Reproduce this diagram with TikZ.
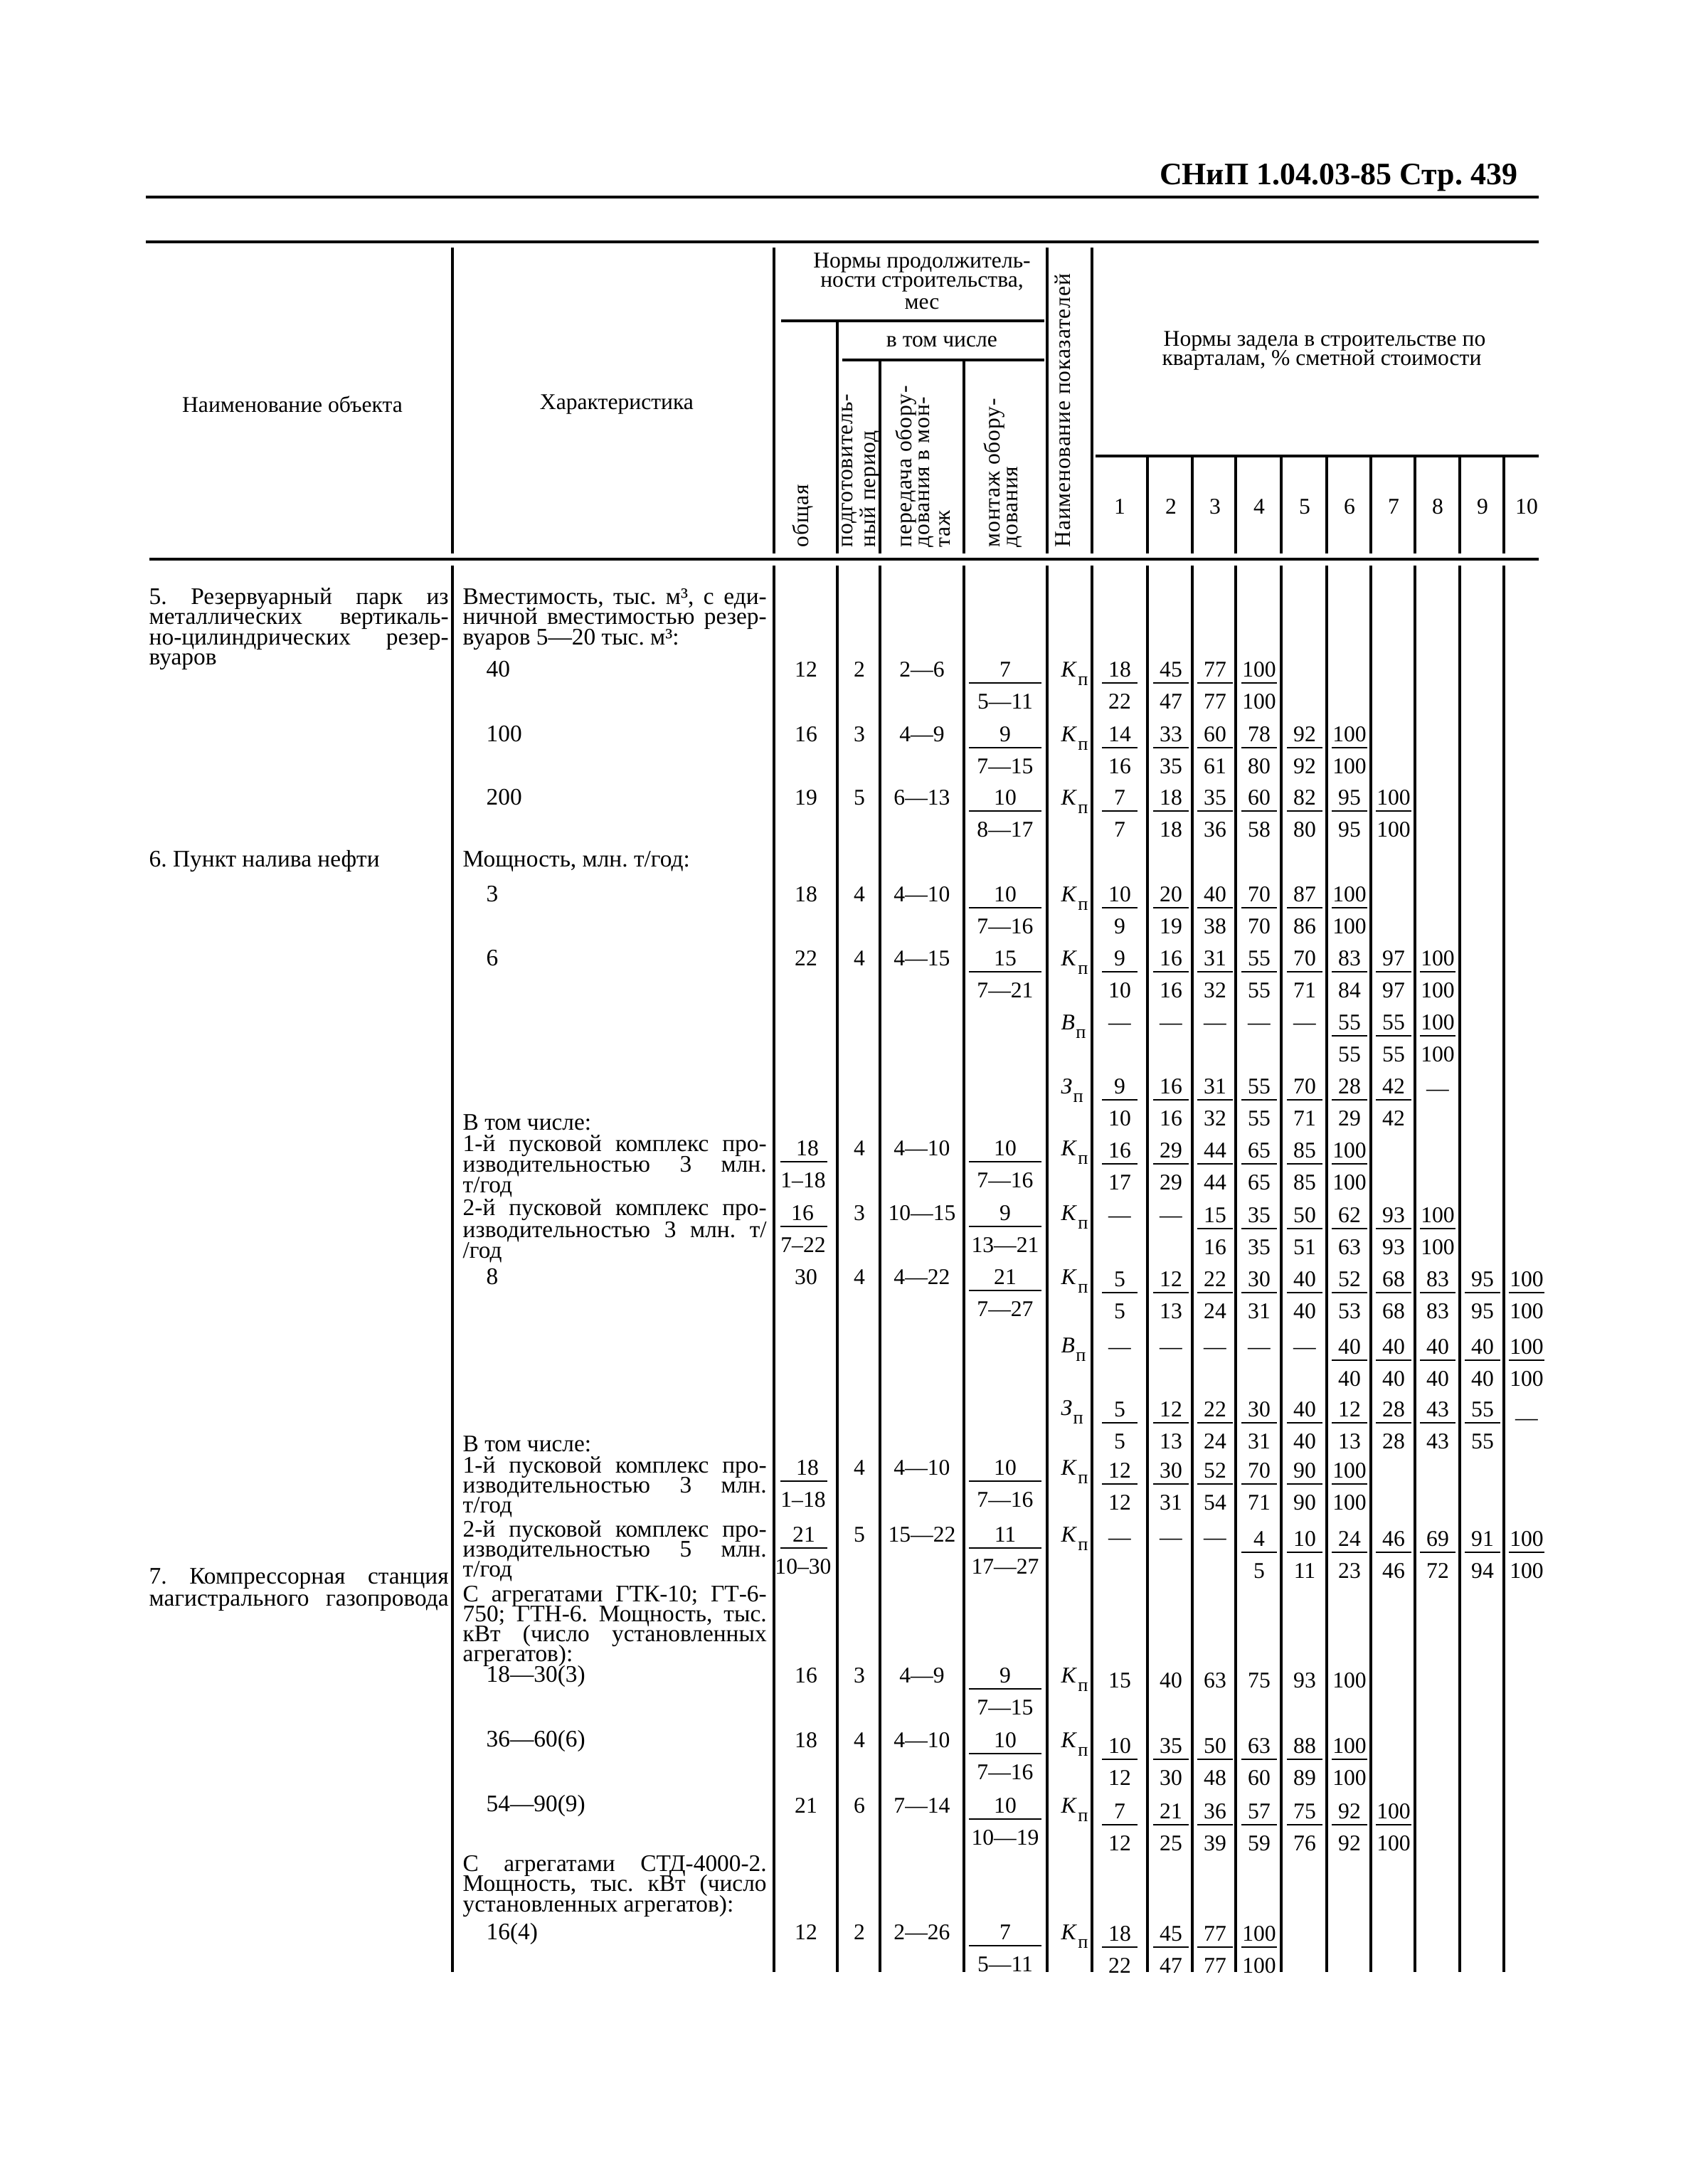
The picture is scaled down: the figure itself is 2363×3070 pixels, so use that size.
\documentclass[tikz,border=0pt]{standalone}
\usepackage{fontspec}
\setmainfont{Liberation Serif}
\newcommand\fsz{\fontsize{9pt}{9pt}\selectfont}
\newcommand\tsz{\fontsize{9.5pt}{9.5pt}\selectfont}
\newcommand\ind[1]{\textit{#1}\kern0.04em\raisebox{-3.6pt}{\fontsize{7.5pt}{7.5pt}\selectfont п}}
\newcommand\colx[1]{\ifcase#1\or1574\or1646\or1708\or1770\or1834\or1897\or1959\or2021\or2084\or2146\fi}
\def\Xo{1133}\def\Xp{1208}\def\Xt{1296}\def\Xm{1413}\def\Xk{1491}
\tikzset{
  cell/.style={inner sep=0pt, font=\fsz, text height=6.1pt, text depth=0pt, anchor=center},
  txt/.style={inner sep=0pt, font=\tsz, anchor=base west},
  hd/.style={inner sep=0pt, font=\fsz, anchor=center},
  rot/.style={inner sep=0pt, font=\fsz\addfontfeature{LetterSpace=2.5}, rotate=90, anchor=west},
  indc/.style={inner sep=0pt, font=\fsz, anchor=base west},
  vline/.style={line width=0.9pt},
  frac/.style={line width=0.7pt},
  heavyrule/.style={line width=1.4pt}
}
\newcommand\Gen[7]{%
  \node[cell] (g#1-o) at (\Xo,#1) {#2};
  \node[cell] (g#1-p) at (\Xp,#1) {#3};
  \node[cell] (g#1-t) at (\Xt,#1) {#4};
  \node[cell] (g#1-mn) at (\Xm,#1) {#5};
  \draw[frac] (1362,#1+19) -- (1464,#1+19);
  \node[cell] (g#1-md) at (\Xm,#1+45) {#6};
  \node[indc] (g#1-k) at (\Xk,#1+10) {\ind{#7}};
}
\newcommand\Ob[4]{% y, x, num, den
  \node[cell] (ob#1-n) at (#2,#1) {#3};
  \draw[frac] (1097,#1+19) -- (1163,#1+19);
  \node[cell] (ob#1-d) at (1129,#1+45) {#4};
}
\newcommand\Qf[2]{%
  \foreach \c/\a/\b in {#2}{%
    \edef\cx{\colx{\c}}%
    \node[cell] (q#1-\c-n) at (\cx,#1) {\a};
    \draw[frac] (\cx-25,#1+19) -- (\cx+25,#1+19);
    \node[cell] (q#1-\c-d) at (\cx,#1+45) {\b};
  }}
\newcommand\Qs[2]{%
  \foreach \c/\a in {#2}{%
    \edef\cx{\colx{\c}}%
    \node[cell] (s#1-\c) at (\cx,#1) {\a};
  }}
\newcommand\J[3]{\node[txt] (#1) at (#2) {\makebox[42.7mm][s]{#3}};}
\newcommand\JN[3]{\node[txt] (#1) at (#2) {\makebox[42.1mm][s]{#3}};}
\begin{document}
\frenchspacing
\begin{tikzpicture}[x=0.1mm,y=-0.1mm]
\useasboundingbox (0,0) rectangle (2363,3070);
\fill[white] (0,0) rectangle (2363,3070);

% page head
\node[inner sep=0pt, anchor=base east, font=\fontsize{12.5pt}{12.5pt}\selectfont\bfseries] (pghead) at (2134,259) {СНиП 1.04.03-85 Стр. 439};

% rules
\draw[heavyrule] (205,277) -- (2163,277);
\draw[heavyrule] (205,340) -- (2163,340);
\draw[heavyrule] (210,786) -- (2163,786);

% header grid
\foreach \x in {636,1088,1472,1535} \draw[vline] (\x,348) -- (\x,778);
\draw[vline] (1177,451) -- (1177,778);
\foreach \x in {1237,1355} \draw[vline] (\x,506) -- (\x,778);
\foreach \x in {1613,1676,1737,1801,1865,1927,1989,2052,2114} \draw[vline] (\x,641) -- (\x,778);
\draw[vline] (1098,451) -- (1468,451);
\draw[vline] (1184,506) -- (1468,506);
\draw[vline] (1540,641) -- (2163,641);

% body grid
\foreach \x in {636,1088,1177,1237,1355,1472,1535,1613,1676,1737,1801,1865,1927,1989,2052,2114}
  \draw[vline] (\x,795) -- (\x,2772);

% header texts
\node[hd] (hname) at (411,568) {Наименование объекта};
\node[hd] (hchar) at (867,568) {Характеристика};
\node[hd] (hdur1) at (1296,369) {Нормы продолжитель-};
\node[hd] (hdur2) at (1296,399) {ности строительства,};
\node[hd] (hdur3) at (1296,427) {мес};
\node[hd] (hincl) at (1324,480) {в том числе};
\node[hd] (hq1) at (1862,479) {Нормы задела в строительстве по};
\node[hd] (hq2) at (1858,506) {кварталам, \% сметной стоимости};
\node[rot] (hobsh) at (1128,770) {общая};
\node[rot] (hpod1) at (1194,770) {подготовитель-};
\node[rot] (hpod2) at (1223,770) {ный период};
\node[rot] (hper1) at (1274,770) {передача обору-};
\node[rot] (hper2) at (1302,770) {дования в мон-};
\node[rot] (hper3) at (1328,770) {таж};
\node[rot] (hmon1) at (1398,770) {монтаж обору-};
\node[rot] (hmon2) at (1426,770) {дования};
\node[rot] (hpok) at (1494,770) {Наименование показателей};
\foreach \c in {1,...,10}{\edef\cx{\colx{\c}}\node[cell] (hn\c) at (\cx,712) {\c};}

% name column
\JN{nm5a}{209,849}{5. Резервуарный парк из}
\JN{nm5b}{209,877}{металлических вертикаль-}
\JN{nm5c}{209,906}{но-цилиндрических резер-}
\node[txt] (nm5d) at (209,934) {вуаров};
\node[txt] (nm6) at (209,1218) {6. Пункт налива нефти};
\JN{nm7a}{209,2226}{7. Компрессорная станция}
\JN{nm7b}{209,2257}{магистрального газопровода}

% characteristic column
\J{ch1}{650,849}{Вместимость, тыс. м³, с еди-}
\J{ch2}{650,877}{ничной вместимостью резер-}
\node[txt] (ch3) at (650,906) {вуаров 5—20 тыс. м³:};
\node[txt] (ch40) at (683,951) {40};
\node[txt] (ch100) at (683,1042) {100};
\node[txt] (ch200) at (683,1131) {200};
\node[txt] (ch6a) at (650,1218) {Мощность, млн. т/год:};
\node[txt] (ch3m) at (683,1267) {3};
\node[txt] (ch6m) at (683,1357) {6};
\node[txt] (ch6i) at (650,1588) {В том числе:};
\J{ch6j}{650,1618}{1-й пусковой комплекс про-}
\J{ch6k}{650,1647}{изводительностью 3 млн.}
\node[txt] (ch6l) at (650,1676) {т/год};
\J{ch6m2}{650,1708}{2-й пусковой комплекс про-}
\J{ch6n}{650,1739}{изводительностью 3 млн. т/}
\node[txt] (ch6o) at (650,1768) {/год};
\node[txt] (ch8m) at (683,1805) {8};
\node[txt] (ch8i) at (650,2040) {В том числе:};
\J{ch8j}{650,2070}{1-й пусковой комплекс про-}
\J{ch8k}{650,2098}{изводительностью 3 млн.}
\node[txt] (ch8l) at (650,2126) {т/год};
\J{ch8m2}{650,2160}{2-й пусковой комплекс про-}
\J{ch8n}{650,2188}{изводительностью 5 млн.}
\node[txt] (ch8o) at (650,2216) {т/год};
\J{ch7a}{650,2251}{С агрегатами ГТК-10; ГТ-6-}
\J{ch7b}{650,2279}{750; ГТН-6. Мощность, тыс.}
\J{ch7c}{650,2307}{кВт (число установленных}
\node[txt] (ch7d) at (650,2335) {агрегатов):};
\node[txt] (ch7e) at (683,2364) {18—30(3)};
\node[txt] (ch7f) at (683,2455) {36—60(6)};
\node[txt] (ch7g) at (683,2546) {54—90(9)};
\J{ch7h}{650,2630}{С агрегатами СТД-4000-2.}
\J{ch7i}{650,2658}{Мощность, тыс. кВт (число}
\node[txt] (ch7j) at (650,2687) {установленных агрегатов):};
\node[txt] (ch7k) at (683,2726) {16(4)};

% data rows
\Gen{941}{12}{2}{2—6}{7}{5—11}{К}
\Qf{941}{1/18/22, 2/45/47, 3/77/77, 4/100/100}
\Gen{1032}{16}{3}{4—9}{9}{7—15}{К}
\Qf{1032}{1/14/16, 2/33/35, 3/60/61, 4/78/80, 5/92/92, 6/100/100}
\Gen{1121}{19}{5}{6—13}{10}{8—17}{К}
\Qf{1121}{1/7/7, 2/18/18, 3/35/36, 4/60/58, 5/82/80, 6/95/95, 7/100/100}
\Gen{1257}{18}{4}{4—10}{10}{7—16}{К}
\Qf{1257}{1/10/9, 2/20/19, 3/40/38, 4/70/70, 5/87/86, 6/100/100}
\Gen{1347}{22}{4}{4—15}{15}{7—21}{К}
\Qf{1347}{1/9/10, 2/16/16, 3/31/32, 4/55/55, 5/70/71, 6/83/84, 7/97/97, 8/100/100}
\node[indc] (k1437) at (\Xk,1447) {\ind{В}};
\Qs{1437}{1/—, 2/—, 3/—, 4/—, 5/—}
\Qf{1437}{6/55/55, 7/55/55, 8/100/100}
\node[indc] (k1527) at (\Xk,1537) {\ind{З}};
\Qf{1527}{1/9/10, 2/16/16, 3/31/32, 4/55/55, 5/70/71, 6/28/29, 7/42/42}
\Qs{1530}{8/—}
\Gen{1614}{}{4}{4—10}{10}{7—16}{К}
\Ob{1614}{1135}{18}{1–18}
\Qf{1617}{1/16/17, 2/29/29, 3/44/44, 4/65/65, 5/85/85, 6/100/100}
\Gen{1705}{}{3}{10—15}{9}{13—21}{К}
\Ob{1705}{1128}{16}{7–22}
\Qs{1708}{1/—, 2/—}
\Qf{1708}{3/15/16, 4/35/35, 5/50/51, 6/62/63, 7/93/93, 8/100/100}
\Gen{1795}{30}{4}{4—22}{21}{7—27}{К}
\Qf{1798}{1/5/5, 2/12/13, 3/22/24, 4/30/31, 5/40/40, 6/52/53, 7/68/68, 8/83/83, 9/95/95, 10/100/100}
\node[indc] (k1891) at (\Xk,1901) {\ind{В}};
\Qs{1893}{1/—, 2/—, 3/—, 4/—, 5/—}
\Qf{1893}{6/40/40, 7/40/40, 8/40/40, 9/40/40, 10/100/100}
\node[indc] (k1979) at (\Xk,1989) {\ind{З}};
\Qf{1981}{1/5/5, 2/12/13, 3/22/24, 4/30/31, 5/40/40, 6/12/13, 7/28/28, 8/43/43, 9/55/55}
\Qs{1993}{10/—}
\Gen{2063}{}{4}{4—10}{10}{7—16}{К}
\Ob{2063}{1135}{18}{1–18}
\Qf{2067}{1/12/12, 2/30/31, 3/52/54, 4/70/71, 5/90/90, 6/100/100}
\Gen{2157}{}{5}{15—22}{11}{17—27}{К}
\Ob{2157}{1130}{21}{10–30}
\Qs{2161}{1/—, 2/—, 3/—}
\Qf{2163}{4/4/5, 5/10/11, 6/24/23, 7/46/46, 8/69/72, 9/91/94, 10/100/100}
\Gen{2355}{16}{3}{4—9}{9}{7—15}{К}
\Qs{2362}{1/15, 2/40, 3/63, 4/75, 5/93, 6/100}
\Gen{2446}{18}{4}{4—10}{10}{7—16}{К}
\Qf{2454}{1/10/12, 2/35/30, 3/50/48, 4/63/60, 5/88/89, 6/100/100}
\Gen{2538}{21}{6}{7—14}{10}{10—19}{К}
\Qf{2546}{1/7/12, 2/21/25, 3/36/39, 4/57/59, 5/75/76, 6/92/92, 7/100/100}
\Gen{2716}{12}{2}{2—26}{7}{5—11}{К}
\Qf{2718}{1/18/22, 2/45/47, 3/77/77, 4/100/100}
\end{tikzpicture}
\end{document}
